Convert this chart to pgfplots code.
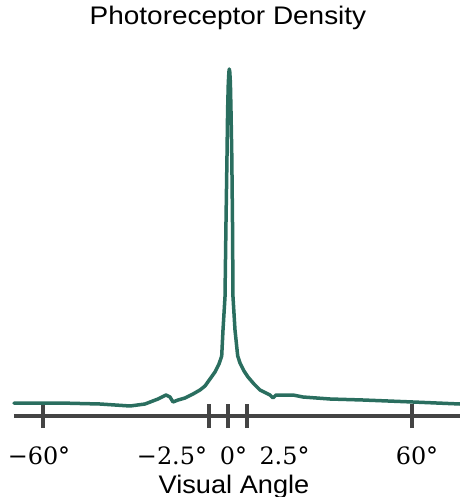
\documentclass[border=0pt]{standalone}
\usepackage{pgfplots}
\pgfplotsset{compat=1.18}
\usepackage{fontspec}
\usepackage{graphicx}
\newfontfamily\arial{Liberation Sans}
\newfontfamily\djs{DejaVu Serif}
\newcommand\tl[1]{{\djs\fontsize{24}{28}\selectfont #1}}
\definecolor{curve}{HTML}{2A6E5F}
\definecolor{axgray}{HTML}{444444}
\begin{document}
\begin{tikzpicture}
\begin{axis}[
  x=1bp, y=1bp,
  xmin=14, xmax=460, ymin=0, ymax=356,
  axis x line=bottom, axis y line=none,
  x axis line style={-, line width=4bp, axgray},
  xtick={43,209,228,247,412},
  xticklabels={,,,,},
  tick align=center,
  major tick length=24bp,
  xtick style={line width=3.5bp, axgray},
  extra x ticks={39,172,233.5,284.5,417},
  extra x tick labels={\tl{−60°},\tl{−2.5°},\tl{0°},\tl{2.5°},\tl{60°}},
  extra x tick style={major tick length=0pt, xtick style={draw=none},
    xticklabel style={anchor=base, yshift=-48bp, inner sep=0pt}},
  xticklabel style={text=black},
  title={\scalebox{1.1}[1]{Photoreceptor Density}},
  title style={at={(axis description cs:0.4798,1.0843)}, anchor=base,
    font=\arial\fontsize{25.5}{30}\selectfont, inner sep=0pt},
  xlabel={\scalebox{1.07}[1]{Visual Angle}},
  xlabel style={at={(axis description cs:0.4933,-0.2163)}, anchor=base,
    font=\arial\fontsize{25.5}{30}\selectfont, inner sep=0pt},
  clip=false,
]
\addplot[curve, line width=3.5bp, line join=round, line cap=round] coordinates {
(14,13) (60,13) (100,12) (115,11) (130,10) (145,12) (158,17) (166,21)
(170,19) (173,14) (178,16) (185,18) (193,22) (200,26) (205,30) (210,37)
(215,44) (219,52) (221.7,60) (223,86) (225,119) (226,194) (227,260)
(227.6,305) (228.3,333) (228.9,344) (229.3,347) (229.8,344) (230.4,333)
(231,305) (231.8,260) (232.5,194) (233,119) (235,86) (237.7,60) (240,53)
(244,45) (248,39) (254,32) (260,26) (266,23) (270,21) (273,18) (276,21)
(280,21) (293,21) (303,19) (330,17) (363,16) (413,14) (460,12)
};
\end{axis}
\pgfresetboundingbox
\path[use as bounding box] (-14bp,-81bp) rectangle (446bp,416bp);
\end{tikzpicture}
\end{document}
